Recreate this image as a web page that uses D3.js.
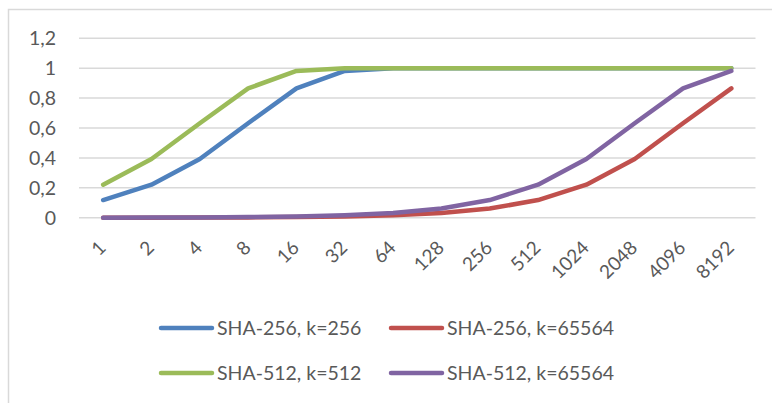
<!DOCTYPE html>
<html><head><meta charset="utf-8">
<script src="https://cdn.jsdelivr.net/npm/d3@7"></script>
<style>body{margin:0;background:#fff;} svg{display:block;font-family:Lato,"Open Sans",sans-serif;}</style>
</head><body>
<svg id="c" width="772" height="403"></svg>
<script>
const categories = ["1","2","4","8","16","32","64","128","256","512","1024","2048","4096","8192"];
const sha256k256   = [0.118,0.221,0.393,0.632,0.865,0.982,1.000,1.000,1.000,1.000,1.000,1.000,1.000,1.000];
const sha256k65564 = [0.000,0.000,0.001,0.002,0.004,0.008,0.016,0.031,0.061,0.118,0.221,0.393,0.632,0.865];
const sha512k512   = [0.221,0.393,0.632,0.865,0.982,1.000,1.000,1.000,1.000,1.000,1.000,1.000,1.000,1.000];
const sha512k65564 = [0.000,0.001,0.002,0.004,0.008,0.016,0.031,0.061,0.118,0.221,0.393,0.632,0.865,0.982];
const yTicks = [0,0.2,0.4,0.6,0.8,1,1.2];
const seriesNames = ["SHA-256, k=256","SHA-256, k=65564","SHA-512, k=512","SHA-512, k=65564"];
const seriesColors = ["#4f81bd","#c0504d","#9bbb59","#8064a2"];
const seriesData = [sha256k256, sha256k65564, sha512k512, sha512k65564];

const svg = d3.select("#c");
svg.append("rect").attr("x",8.5).attr("y",9.5).attr("width",800).attr("height",420)
  .attr("fill","#fff").attr("stroke","#d9d9d9").attr("stroke-width",1.5);

const x = d3.scaleBand().domain(categories).range([79,755.5]);
const y = d3.scaleLinear().domain([0,1.2]).range([217.7,38.3]);
const fmt = v => String(+v.toFixed(1)).replace(".",",");

const g = svg.append("g");
g.selectAll("line.grid").data(yTicks).join("line").attr("class","grid")
  .attr("x1",79).attr("x2",755.5).attr("y1",d=>y(d)).attr("y2",d=>y(d))
  .attr("stroke","#d9d9d9").attr("stroke-width",1.5);

g.selectAll("text.yl").data(yTicks).join("text").attr("class","yl")
  .attr("x",56).attr("y",d=>y(d)).attr("dy","0.36em").attr("text-anchor","end")
  .attr("fill","#595959").attr("font-size",19.5).text(fmt);

g.selectAll("text.xl").data(categories).join("text").attr("class","xl")
  .attr("transform",d=>`translate(${x(d)+x.bandwidth()/2-1},${244}) rotate(-45)`)
  .attr("text-anchor","end").attr("dy","0.36em")
  .attr("fill","#595959").attr("font-size",19).text(d=>d);

const line = d3.line().x((d,i)=>x(categories[i])+x.bandwidth()/2).y(d=>y(d));
seriesData.forEach((s,i)=>{
  g.append("path").datum(s).attr("d",line).attr("fill","none")
   .attr("stroke",seriesColors[i]).attr("stroke-width",4.5)
   .attr("stroke-linecap","round").attr("stroke-linejoin","round");
});

// legend
const legPos = [[161,328],[391,328],[161,373],[391,373]];
seriesNames.forEach((n,i)=>{
  const [lx,ly] = legPos[i];
  svg.append("line").attr("x1",lx).attr("x2",lx+51).attr("y1",ly).attr("y2",ly)
    .attr("stroke",seriesColors[i]).attr("stroke-width",4.5).attr("stroke-linecap","round");
  svg.append("text").attr("x",lx+56).attr("y",ly).attr("dy","0.36em")
    .attr("fill","#595959").attr("font-size",19.5).text(n);
});
</script>
</body></html>
